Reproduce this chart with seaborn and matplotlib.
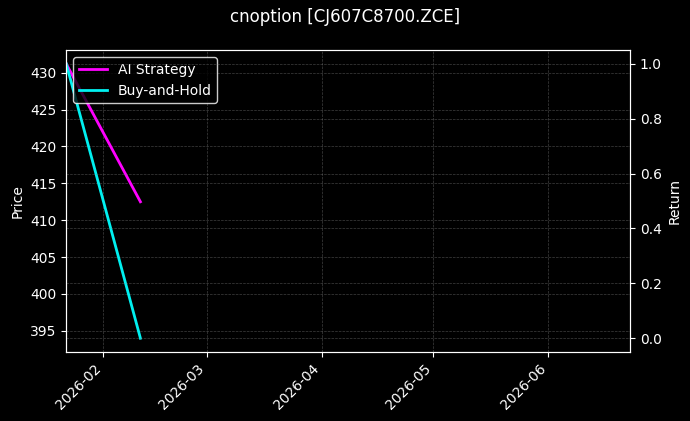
import matplotlib
matplotlib.use("Agg")
import matplotlib.pyplot as plt
import matplotlib.dates as mdates
import seaborn as sns
import pandas as pd

# Values
dates = ["2026-01-22", "2026-02-11"]
ai_strategy = [431.2, 412.5]
buy_and_hold = [431.2, 394.0]
x_range = ["2026-01-22", "2026-06-23"]
return_range = [-0.05, 1.05]

plt.style.use("dark_background")
plt.rcParams["font.family"] = ["DejaVu Sans"]

df = pd.DataFrame({
    "Date": pd.to_datetime(dates),
    "AI Strategy": ai_strategy,
    "Buy-and-Hold": buy_and_hold,
})

fig, ax = plt.subplots(figsize=(6.9, 4.21), dpi=100)
fig.subplots_adjust(left=0.096, right=0.913, top=0.881, bottom=0.164)

sns.lineplot(data=df, x="Date", y="AI Strategy", ax=ax, color="#ff00ff",
             linewidth=2, label="AI Strategy")
sns.lineplot(data=df, x="Date", y="Buy-and-Hold", ax=ax, color="#00f0f0",
             linewidth=2, label="Buy-and-Hold")

ax.set_xlim(pd.to_datetime(x_range[0]), pd.to_datetime(x_range[1]))
ax.set_ylabel("Price")
ax.set_xlabel("")
ax.grid(True, linestyle="--", linewidth=0.5, color="gray", alpha=0.5)

ax2 = ax.twinx()
ax2.set_ylim(return_range)
ax2.set_ylabel("Return")
ax2.grid(True, linestyle="--", linewidth=0.5, color="gray", alpha=0.5)

ax.xaxis.set_major_locator(mdates.MonthLocator())
ax.xaxis.set_major_formatter(mdates.DateFormatter("%Y-%m"))
plt.setp(ax.get_xticklabels(), rotation=45, ha="right")

leg = ax.legend(loc="upper left", facecolor="black", edgecolor="white")

fig.suptitle("cnoption [CJ607C8700.ZCE]", fontsize=12)
fig.savefig("out.png", dpi=100)
